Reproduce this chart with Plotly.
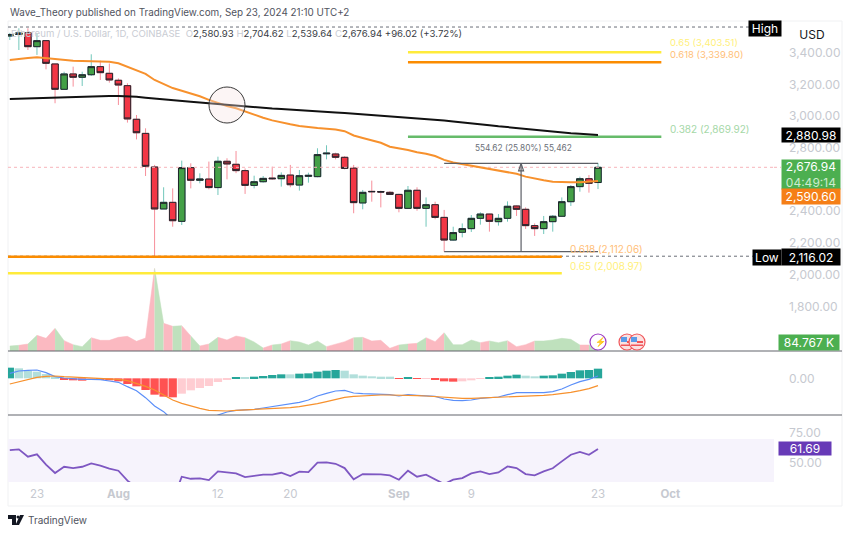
import pandas as pd
import plotly.graph_objects as go

WIDTH = 850
HEIGHT = 534

dias = pd.date_range("2024-07-20", "2024-09-23", freq="D")

aperturas = [3505, 3515, 3526, 3438, 3476, 3329, 3169, 3266, 3245, 3261, 3312, 3270, 3226, 3192, 2980, 2891, 2679,
             2414, 2456, 2336, 2675, 2595, 2603, 2549, 2715, 2696, 2656, 2563, 2586, 2609, 2605, 2628, 2565, 2620,
             2618, 2762, 2761, 2740, 2672, 2452, 2525, 2524, 2519, 2506, 2418, 2532, 2418, 2441, 2361, 2218, 2267,
             2290, 2355, 2382, 2334, 2355, 2433, 2412, 2309, 2290, 2334, 2368, 2460, 2555, 2605, 2580.93]
maximos = [3525, 3554, 3554, 3522, 3476, 3329, 3280, 3312, 3280, 3390, 3350, 3332, 3238, 3207, 3007, 2923, 2692,
           2551, 2544, 2719, 2702, 2639, 2713, 2744, 2734, 2780, 2670, 2624, 2622, 2681, 2645, 2692, 2660, 2643,
           2797, 2816, 2769, 2748, 2692, 2534, 2593, 2530, 2527, 2510, 2559, 2551, 2487, 2460, 2408, 2302, 2323,
           2376, 2393, 2384, 2382, 2462, 2437, 2424, 2323, 2370, 2376, 2487, 2565, 2618, 2628, 2704.62]
minimos = [3480, 3417, 3417, 3386, 3295, 3081, 3165, 3186, 3190, 3253, 3228, 3211, 3070, 2959, 2853, 2622, 2116,
           2414, 2302, 2313, 2544, 2576, 2538, 2502, 2601, 2640, 2509, 2544, 2580, 2597, 2555, 2551, 2530, 2580,
           2614, 2727, 2727, 2664, 2387, 2412, 2460, 2424, 2502, 2393, 2418, 2403, 2302, 2349, 2145, 2214, 2235,
           2269, 2315, 2271, 2309, 2334, 2370, 2288, 2244, 2256, 2271, 2366, 2433, 2523, 2517, 2539.64]
cierres = [3515, 3525, 3438, 3476, 3333, 3169, 3266, 3245, 3261, 3312, 3274, 3228, 3196, 2982, 2895, 2683, 2414,
           2456, 2340, 2675, 2595, 2603, 2549, 2715, 2698, 2656, 2563, 2586, 2607, 2605, 2626, 2567, 2624, 2626,
           2757, 2766, 2740, 2670, 2454, 2519, 2523, 2521, 2506, 2418, 2532, 2418, 2441, 2361, 2218, 2265, 2290,
           2355, 2382, 2336, 2355, 2431, 2412, 2309, 2290, 2334, 2368, 2460, 2555, 2605, 2576, 2676.94]

ema_naranja = [3354, 3362, 3367, 3371, 3365, 3358, 3354, 3350, 3348, 3346, 3346, 3343, 3333, 3312, 3287, 3266, 3228,
               3200, 3177, 3160, 3144, 3125, 3102, 3081, 3064, 3049, 3028, 3007, 2990, 2973, 2959, 2948, 2938, 2930,
               2925, 2920, 2915, 2905, 2878, 2862, 2847, 2832, 2807, 2797, 2786, 2772, 2763, 2748, 2724, 2707, 2697,
               2687, 2676, 2664, 2653, 2645, 2636, 2618, 2605, 2595, 2586, 2582, 2582, 2583, 2586, 2590.6]
ema_negra = [3108, 3110, 3112, 3114, 3116, 3118, 3120, 3122, 3124, 3125, 3126, 3127, 3127, 3125, 3122, 3116, 3110,
             3104, 3099, 3095, 3090, 3086, 3081, 3076, 3070, 3065, 3060, 3056, 3051, 3048, 3045, 3042, 3038, 3034,
             3031, 3027, 3023, 3019, 3015, 3011, 3007, 3003, 2999, 2995, 2991, 2987, 2982, 2977, 2972, 2966, 2961,
             2955, 2949, 2943, 2936, 2930, 2925, 2919, 2913, 2908, 2902, 2897, 2892, 2888, 2884, 2880.98]

volumen = [255, 289, 357, 799, 646, 1156, 527, 323, 221, 680, 544, 544, 697, 748, 493, 663, 4216,
           1411, 1258, 1292, 765, 255, 357, 697, 561, 765, 680, 459, 153, 306, 357, 527, 459, 306,
           510, 221, 357, 476, 680, 697, 510, 544, 136, 306, 357, 391, 680, 476, 935, 323, 323,
           561, 425, 510, 425, 527, 221, 323, 510, 510, 561, 646, 595, 306, 306, 85]

macd_hist = [32, 30, 23, 20, 13, 5, -3, -6, -7, -3, -3, -6, -9, -17, -24, -35, -49,
             -55, -57, -46, -36, -29, -23, -11, -3, 3, 2, 5, 7, 10, 12, 12, 14, 15,
             20, 23, 25, 23, 12, 8, 6, 5, 5, -2, 3, -2, -1, -3, -9, -10, -9,
             -6, -2, 2, 5, 8, 11, 8, 6, 8, 9, 14, 19, 24, 25, 29]
macd_linea = [15, 22, 24, 25, 17, 5, 1, -2, -3, -3, -4, -8, -12, -25, -37, -58, -83,
              -100, -125, -150, -160, -150, -135, -110, -101, -96, -95, -93, -89, -85, -80, -78, -72, -65,
              -53, -45, -38, -36, -44, -46, -47, -48, -49, -53, -49, -51, -52, -54, -62, -66, -67,
              -65, -60, -57, -56, -49, -43, -43, -44, -43, -40, -32, -20, -10, -3, 7]
macd_senal = [-17, -10, -3, 3, 6, 7, 5, 4, 3, 2, 1, -1, -3, -7, -15, -24, -35,
              -49, -65, -75, -83, -90, -96, -98, -98, -96, -95, -94, -93, -92, -90, -88, -85, -81,
              -76, -70, -64, -57, -54, -52, -51, -50, -50, -50, -51, -52, -53, -55, -57, -59, -60,
              -60, -59, -59, -58, -56, -54, -53, -52, -51, -49, -46, -42, -37, -31, -22]

rsi = [60.8, 61.4, 55.3, 57.2, 48.6, 41.7, 46.9, 45.8, 46.9, 49.7, 47.8, 45.3, 43.6, 35.3, 29.7, 24, 11.7,
       14.4, 18.6, 38.6, 36.9, 37.2, 35.8, 43, 42.5, 41.4, 38.3, 39.2, 40.3, 40.3, 41.9, 39.2, 42.8, 42.5,
       50.3, 50.6, 49.4, 45.8, 36.4, 40.8, 40.8, 40.5, 39.7, 36.1, 43.6, 38.6, 40.3, 36.7, 32.5, 36.1, 37.5,
       41.4, 43, 40.8, 42.2, 47.2, 45.8, 40.8, 39.7, 43, 45.6, 51.4, 56.9, 59.2, 56.9, 61.69]

precio_ticks = [1800, 2000, 2200, 2400, 2800, 3000, 3200, 3400]
fecha_ticks = ["2024-07-23", "2024-08-01", "2024-08-12", "2024-08-20", "2024-09-01", "2024-09-09", "2024-09-23", "2024-10-01"]
fecha_textos = ["23", "<b>Aug</b>", "12", "20", "<b>Sep</b>", "9", "23", "<b>Oct</b>"]

INICIO = "2024-07-19 19:12"
FINAL = "2024-10-12 10:48"

VERDE = "#43a047"
ROJO = "#f23645"
GRIS = "#c6c9d0"
FUENTE = "Inter"


def px_x(x):
    return x / WIDTH


def px_y(y):
    return 1 - y / HEIGHT


fig = go.Figure()

# volumen: tramos rellenos, cada uno del color de la vela en la que termina
tramo_ini = 0
for i in range(1, len(dias)):
    sube = cierres[i] >= aperturas[i]
    fin = i == len(dias) - 1
    sigue = not fin and (cierres[i + 1] >= aperturas[i + 1]) == sube
    if sigue:
        continue
    color = "#bfe1bd" if sube else "#fbb9c1"
    fig.add_trace(go.Scatter(x=dias[tramo_ini:i + 1], y=volumen[tramo_ini:i + 1], mode="lines", fill="tozeroy",
                             fillcolor=color, line=dict(color=color, width=0.5), yaxis="y", showlegend=False))
    tramo_ini = i

# lineas dentro del panel de precio
def linea(x, y, color, ancho=2, dash="solid"):
    fig.add_trace(go.Scatter(x=x, y=y, mode="lines", line=dict(color=color, width=ancho, dash=dash), yaxis="y2",
                             showlegend=False))


linea([INICIO, FINAL], [2676.94, 2676.94], "#f7b4bb", 1, "dot")
linea([INICIO, FINAL], [3562, 3562], "#6b6f78", 1, "dot")
linea([INICIO, FINAL], [2116.02, 2116.02], "#6b6f78", 1, "dot")

linea(["2024-09-02", "2024-09-30"], [3403.51, 3403.51], "#ffeb3b", 2.5)
linea(["2024-09-02", "2024-09-30"], [3339.80, 3339.80], "#fb8c00", 2.5)
linea(["2024-09-02", "2024-09-30"], [2869.92, 2869.92], "#66bb6a", 2.5)
linea([INICIO, "2024-09-19"], [2112.06, 2112.06], "#fb8c00", 2.5)
linea([INICIO, "2024-09-19"], [2008.97, 2008.97], "#ffeb3b", 2.5)

# mechas y cuerpos por separado, cada uno con su color de borde
fig.add_trace(go.Candlestick(x=dias, open=aperturas, high=maximos, low=minimos, close=cierres, yaxis="y2",
                             whiskerwidth=0, showlegend=False,
                             increasing=dict(line=dict(color="#72c7bb", width=1), fillcolor=VERDE),
                             decreasing=dict(line=dict(color="#f78f9b", width=1), fillcolor=ROJO)))
fig.add_trace(go.Candlestick(x=dias, open=aperturas, close=cierres, yaxis="y2", whiskerwidth=0, showlegend=False,
                             high=[max(a, c) for a, c in zip(aperturas, cierres)],
                             low=[min(a, c) for a, c in zip(aperturas, cierres)],
                             increasing=dict(line=dict(color="#20242c", width=1), fillcolor=VERDE),
                             decreasing=dict(line=dict(color="#20242c", width=1), fillcolor=ROJO)))

linea(dias, ema_naranja, "#f7912d", 2)
linea(dias, ema_negra, "#111111", 2)

# herramienta de medicion
linea(["2024-09-06", "2024-09-23"], [2145, 2145], "#5c5f66", 1.2)
linea(["2024-09-06", "2024-09-23"], [2702, 2702], "#5c5f66", 1.2)
linea(["2024-09-14 12:00", "2024-09-14 12:00"], [2145, 2702], "#5c5f66", 1.2)
fig.add_trace(go.Scatter(x=["2024-09-14 12:00"], y=[2702], mode="markers", yaxis="y2", showlegend=False,
                         marker=dict(symbol="arrow-open", size=8, color="#5c5f66",
                                     line=dict(color="#5c5f66", width=1.2))))

# MACD
colores_hist = []
for i, v in enumerate(macd_hist):
    crece = i == 0 or v > macd_hist[i - 1]
    if v >= 0:
        colores_hist.append("#26a69a" if crece else "#b2dfdb")
    else:
        colores_hist.append("#ffcdd2" if crece else "#ff5252")
fig.add_trace(go.Bar(x=dias, y=macd_hist, marker=dict(color=colores_hist, line=dict(width=0)), yaxis="y3",
                     showlegend=False))
fig.add_trace(go.Scatter(x=dias, y=macd_linea, mode="lines", line=dict(color="#5b8ff9", width=1.2), yaxis="y3",
                         showlegend=False))
fig.add_trace(go.Scatter(x=dias, y=macd_senal, mode="lines", line=dict(color="#f7912d", width=1.2), yaxis="y3",
                         showlegend=False))

# RSI
fig.add_trace(go.Scatter(x=dias, y=rsi, mode="lines", line=dict(color="#7e57c2", width=1.8), yaxis="y4",
                         showlegend=False))

fig.update_layout(
    width=WIDTH,
    height=HEIGHT,
    margin=dict(l=0, r=0, t=0, b=0),
    paper_bgcolor="white",
    plot_bgcolor="white",
    font=dict(family=FUENTE, size=12, color=GRIS),
    boxmode="overlay",
    boxgap=0.2,
    boxgroupgap=0.1,
    bargap=0.08,
    showlegend=False,
    xaxis=dict(domain=[px_x(8), px_x(774)], range=[INICIO, FINAL], type="date", anchor="y4", showgrid=False,
               zeroline=False, showline=False, rangeslider=dict(visible=False), tickmode="array",
               tickvals=fecha_ticks, ticktext=fecha_textos, tickfont=dict(size=11.5, color=GRIS), ticklen=0,
               ticklabelstandoff=3),
    yaxis=dict(domain=[px_y(351), px_y(21)], range=[0, 16830], showgrid=False, zeroline=False, showticklabels=False,
               ticks=""),
    yaxis2=dict(domain=[px_y(351), px_y(21)], range=[1518, 3600], overlaying="y", side="right", anchor="x",
                showgrid=False, zeroline=False, tickmode="array", tickvals=precio_ticks, tickformat=",.2f",
                tickfont=dict(size=12, color=GRIS), ticklen=0, ticklabelstandoff=14),
    yaxis3=dict(domain=[px_y(415), px_y(351)], range=[-110, 82], side="right", anchor="x", showgrid=False,
                zeroline=False, tickmode="array", tickvals=[0], tickformat=".2f",
                tickfont=dict(size=12, color=GRIS), ticklen=0, ticklabelstandoff=14),
    yaxis4=dict(domain=[px_y(482), px_y(415)], range=[34.2, 90], side="right", anchor="x", showgrid=False,
                zeroline=False, tickmode="array", tickvals=[50, 75], tickformat=".2f",
                tickfont=dict(size=12, color=GRIS), ticklen=0, ticklabelstandoff=14),
)

formas = [
    # marco y separadores de paneles
    dict(type="rect", xref="paper", yref="paper", x0=px_x(8), x1=px_x(842), y0=px_y(506), y1=px_y(21),
         line=dict(color="#f0f1f3", width=1), layer="below"),
    dict(type="line", xref="paper", yref="paper", x0=px_x(8), x1=px_x(842), y0=px_y(351), y1=px_y(351),
         line=dict(color="#62656c", width=1.2)),
    dict(type="line", xref="paper", yref="paper", x0=px_x(8), x1=px_x(842), y0=px_y(415), y1=px_y(415),
         line=dict(color="#62656c", width=1.2)),
    # tramo final de la linea de precio, hasta la etiqueta
    dict(type="line", xref="paper", yref="y2", x0=px_x(774), x1=px_x(781), y0=2676.94, y1=2676.94,
         line=dict(color="#f7b4bb", width=1, dash="dot")),
    # banda del RSI
    dict(type="rect", xref="paper", yref="y4", x0=px_x(8), x1=px_x(774), y0=34.2, y1=70,
         fillcolor="#f6f3fc", line=dict(width=0), layer="below"),
    # circulo del cruce
    dict(type="circle", xref="paper", yref="paper", x0=px_x(209), x1=px_x(245), y0=px_y(123), y1=px_y(87),
         fillcolor="rgba(247,225,225,0.35)", line=dict(color="#3a3a3a", width=1)),
    # logo TradingView
    dict(type="path", xref="paper", yref="paper", fillcolor="#131722", line=dict(width=0),
         path="M %f,%f L %f,%f L %f,%f L %f,%f L %f,%f L %f,%f Z" % (
             px_x(8), px_y(515), px_x(16), px_y(515), px_x(16), px_y(525), px_x(12), px_y(525),
             px_x(12), px_y(519), px_x(8), px_y(519))),
    dict(type="circle", xref="paper", yref="paper", fillcolor="#131722", line=dict(width=0),
         x0=px_x(16.5), x1=px_x(19.5), y0=px_y(518.5), y1=px_y(515.5)),
    dict(type="path", xref="paper", yref="paper", fillcolor="#131722", line=dict(width=0),
         path="M %f,%f L %f,%f L %f,%f L %f,%f Z" % (
             px_x(20), px_y(515), px_x(24), px_y(515), px_x(19), px_y(525), px_x(15.5), px_y(525))),
    # rayo y banderas
    dict(type="circle", xref="paper", yref="paper", x0=px_x(590), x1=px_x(606), y0=px_y(350), y1=px_y(334),
         fillcolor="white", line=dict(color="#9c3bc4", width=1.2)),
]
for cx in [627, 637]:
    formas.append(dict(type="circle", xref="paper", yref="paper", x0=px_x(cx - 8), x1=px_x(cx + 8),
                       y0=px_y(350), y1=px_y(334), fillcolor="#fbe1e1", line=dict(color="#f0565a", width=1.2)))
    formas.append(dict(type="rect", xref="paper", yref="paper", x0=px_x(cx - 6), x1=px_x(cx), y0=px_y(342),
                       y1=px_y(337), fillcolor="#5a9be8", line=dict(width=0)))
    formas.append(dict(type="rect", xref="paper", yref="paper", x0=px_x(cx), x1=px_x(cx + 6), y0=px_y(343),
                       y1=px_y(341), fillcolor="#f0565a", line=dict(width=0)))
    formas.append(dict(type="rect", xref="paper", yref="paper", x0=px_x(cx - 6), x1=px_x(cx + 6), y0=px_y(346),
                       y1=px_y(344.5), fillcolor="#f0565a", line=dict(width=0)))
fig.update_layout(shapes=formas)


def texto(x, y, t, color="#50535e", size=11, **kw):
    fig.add_annotation(xref="paper", yref="paper", x=px_x(x), y=px_y(y), text=t, showarrow=False, xanchor="left",
                       yanchor="middle", font=dict(family=FUENTE, size=size, color=color), **kw)


def etiqueta(x, y, ancho, alto, t, fondo, color="white", size=12):
    fig.add_annotation(xref="paper", yref="paper", x=px_x(x), y=px_y(y), text=t, showarrow=False, xanchor="left",
                       yanchor="middle", width=ancho, height=alto, bgcolor=fondo, borderpad=0, align="center",
                       font=dict(family=FUENTE, size=size, color=color))


def gris(t):
    return '<span style="color:#c9ccd3">%s</span>' % t


def oscuro(t):
    return '<span style="color:#3a3d45">%s</span>' % t


texto(8, 12, "Wave_Theory published on TradingView.com, Sep 23, 2024 21:10 UTC+2", "#50535e", 9.9)
texto(9, 33, gris("Ethereum / U.S. Dollar, 1D, COINBASE  O") + oscuro("2,580.93") + gris(" H") + oscuro("2,704.62")
      + gris(" L") + oscuro("2,539.64") + gris(" C") + oscuro("2,676.94 +96.02 (+3.72%)"), size=9.6)

texto(668, 43, "0.65 (3,403.51)", "#fff07a", 9.5)
texto(668, 54.5, "0.618 (3,339.80)", "#ffc078", 9.5)
texto(668, 129, "0.382 (2,869.92)", "#a5d8a7", 10)
texto(568, 249, "0.618 (2,112.06)", "#ffc078", 10)
texto(568, 266, "0.65 (2,008.97)", "#fff07a", 10)
texto(473, 148, "554.62 (25.80%) 55,462", "#6b6f78", 8.3)
texto(598 - 5, 342, "⚡", "#9c3bc4", 9)
texto(26, 520, "TradingView", "#50535e", 10)

etiqueta(748, 28.5, 32, 15, "High", "#000000")
etiqueta(752, 257, 28, 15, "Low", "#000000")
etiqueta(781, 135, 58, 14, "2,880.98", "#000000")
etiqueta(781, 257, 58, 16, "2,116.02", "#000000")
etiqueta(781, 174.5, 58, 29, "2,676.94<br><span style='color:#cdebce'>04:49:14</span>", "#4caf50")
etiqueta(781, 196.5, 58, 15, "2,590.60", "#f57f17")
etiqueta(778, 342, 60, 15, "84.767 K", "#4caf50")
etiqueta(778, 448.5, 52, 13, "61.69", "#673ab7")
etiqueta(783, 34, 56, 20, "USD", "white", "#131722", 12)

fig.write_html("out.html", config={"displayModeBar": False}, post_script="document.body.style.margin='0';")
